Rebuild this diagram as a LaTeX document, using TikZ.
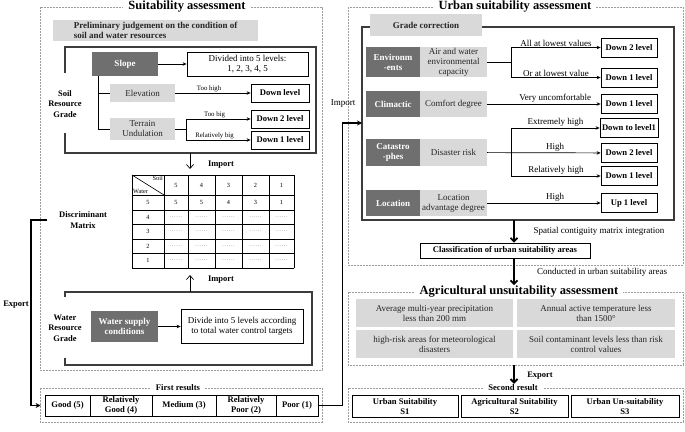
\documentclass[tikz,border=0pt]{standalone}
\usepackage{fontspec}
\setmainfont{Liberation Serif}
\usetikzlibrary{positioning,calc,arrows.meta}
\definecolor{gdark}{HTML}{6F6F6F}
\definecolor{glight}{HTML}{D9D9D9}
\definecolor{gdash}{HTML}{9C9C9C}
\definecolor{gframe}{HTML}{3C3C3C}
\newcommand{\fsmain}{\fontsize{9}{10}\selectfont}
\newcommand{\fslab}{\fontsize{9}{10}\selectfont}
\newcommand{\fsres}{\fontsize{8.6}{9.6}\selectfont}
\newcommand{\fsside}{\fontsize{8.5}{10.5}\selectfont}
\newcommand{\fstiny}{\fontsize{6.8}{8}\selectfont}
\newcommand{\fscell}{\fontsize{6.3}{7}\selectfont}
\newcommand{\fstitle}{\fontsize{12.5}{14}\selectfont}

\begin{document}
\begin{tikzpicture}[x=1pt, y=-1pt, >=Stealth, font=\fsmain,
  grp/.style={draw=gdash, line width=0.6pt, dash pattern=on 2pt off 1pt},
  frm/.style={draw=gframe, line width=1.1pt},
  ttl/.style={fill=white, inner xsep=5pt, inner ysep=1pt, font=\fstitle\bfseries},
  sub/.style={fill=white, inner xsep=5pt, inner ysep=1pt, font=\fsres\bfseries},
  dk/.style={fill=gdark, text=white, font=\fsmain\bfseries, align=center, inner sep=1pt},
  lt/.style={fill=glight, text=black!85, align=center, inner sep=1pt},
  res/.style={draw=black, line width=0.8pt, fill=white, align=center, inner sep=1pt, font=\fsres\bfseries},
  side/.style={font=\fsside\bfseries, align=center, inner sep=1pt},
  lbl/.style={font=\fstiny, inner sep=1pt},
  rlbl/.style={font=\fslab, inner sep=1pt},
  cell/.style={font=\fscell, inner sep=0pt},
  dots/.style={font=\fscell, text=black!45, inner sep=0pt},
  arr/.style={-{Stealth[length=4pt,width=3.5pt]}, line width=0.7pt},
  ln/.style={line width=0.8pt},
  imp/.style={-{Straight Barb[length=4pt,width=7pt]}, line width=0.7pt},
  bar/.style={-{Straight Barb[length=3.5pt,width=7pt]}, line width=1.8pt},
  exp/.style={-{Stealth[length=5pt,width=5pt]}, line width=1.4pt}]
  \useasboundingbox (0,0) rectangle (685,431);
  % --- dashed groups
  \draw[grp] (40,7) rectangle (322,370);
  \draw[grp] (40,388) rectangle (322,422);
  \draw[grp] (348,7) rectangle (683,265);
  \draw[grp] (348,292) rectangle (683,365);
  \draw[grp] (348,388) rectangle (683,422);
  \node[ttl] (suit) at (187,7)   {Suitability assessment};
  \node[ttl] (urb)  at (515,7)   {Urban suitability assessment};
  \node[ttl] (agt)  at (519,292) {Agricultural unsuitability assessment};
  \node[sub] (fres) at (178,388) {First results};
  \node[sub] (sres) at (513,388) {Second result};

  % --- soil resource grade
  \draw[frm] (65,73) -- (65,47) -- (316,47) -- (316,153) -- (65,153) -- (65,133);
  \node[lt, font=\fsmain\bfseries, align=left, anchor=west, minimum width=205, minimum height=21,
        inner xsep=6pt] (pre) at (53,30.5)
        {Preliminary judgement on the condition of\\soil and water resources};
  \node[side] (sgr) at (65,104) {Soil\\Resource\\Grade};
  \node[dk, minimum width=66, minimum height=24] (slope) at (125,64) {Slope};
  \node[draw, line width=0.8pt, align=center, minimum width=121, minimum height=24, inner sep=1pt]
        (div) at (247.5,64) {Divided into 5 levels:\\1, 2, 3, 4, 5};
  \node[lt, minimum width=65, minimum height=18] (elev) at (142.5,93) {Elevation};
  \node[lt, minimum width=65, minimum height=22] (terr) at (142.5,129) {Terrain\\Undulation};
  \node[res, minimum width=58, minimum height=18] (dl)  at (280,93)  {Down level};
  \node[res, minimum width=58, minimum height=18] (dl2) at (280,119) {Down 2 level};
  \node[res, minimum width=58, minimum height=18] (dl1) at (280,140) {Down 1 level};
  \draw[arr] (slope) -- (div);
  \draw[ln] ([xshift=7pt]slope.south west) |- (elev.west);
  \draw[ln] ([xshift=7pt]slope.south west) |- (terr.west);
  \draw[arr] (elev) -- node[lbl, above, pos=0.45] {Too high} (dl);
  \draw[arr] (terr.east) -- ++(11,0) |- node[lbl, above, pos=0.72] {Too big} (dl2);
  \draw[arr] ([xshift=11pt]terr.east) |- node[lbl, above, pos=0.72] {Relatively big} (dl1);

  % --- discriminant matrix
  \coordinate (sbot) at (190,153);
  \coordinate (tin)  at (190,169);
  \draw[imp] (sbot) -- (tin);
  \node[side] (imp1) at (221,165) {Import};
  \node[side] (dm) at (83,220) {Discriminant\\Matrix};
  \foreach \x in {132,164,188,215,242,269,294}
    \draw[line width=0.7pt] (\x,175) -- (\x,268);
  \foreach \y in {175,195,210,224,239,253,268}
    \draw[line width=0.7pt] (132,\y) -- (294,\y);
  \draw[line width=0.6pt] (132,175) -- (164,195);
  \node[cell, anchor=north east, inner sep=1pt] (soil) at (164,175) {Soil};
  \node[cell, anchor=south west, inner sep=1pt] (water) at (132,195) {Water};
  \foreach \cx/\v [count=\i] in {176/5,201.5/4,228.5/3,255.5/2,281.5/1}
    \node[cell] (h\i) at (\cx,185) {\v};
  \foreach \cy/\v [count=\i] in {202.5/5,217/4,231.5/3,246/2,260.5/1}
    \node[cell] (r\i) at (148,\cy) {\v};
  \foreach \cx/\v [count=\i] in {176/5,201.5/5,228.5/4,255.5/3,281.5/1}
    \node[cell] (v\i) at (\cx,202.5) {\v};
  \foreach \cx [count=\i] in {176,201.5,228.5,255.5,281.5}
    \foreach \cy [count=\j] in {217,231.5,246,260.5}
      \node[dots] (d\i\j) at (\cx,\cy) {……};

  % --- water resource grade
  \draw[frm] (65,297) -- (65,292) -- (312,292) -- (312,365) -- (65,365) -- (65,358);
  \coordinate (wtop) at (190,292);
  \coordinate (wtip) at (190,275);
  \draw[imp] (wtop) -- (wtip);
  \node[side] (imp2) at (221,280) {Import};
  \node[side] (wgr) at (65,328) {Water\\Resource\\Grade};
  \node[dk, minimum width=67, minimum height=31] (wsup) at (124.5,326.5) {Water supply\\conditions};
  \node[draw, line width=0.8pt, align=center, minimum width=122, minimum height=34, inner sep=1pt]
        (wdiv) at (242,326.5) {Divide into 5 levels according\\to total water control targets};
  \draw[arr] (wsup) -- (wdiv);

  % --- first results
  \node[res, minimum width=45, minimum height=21] (good) at (67.5,405.5)  {Good (5)};
  \node[res, minimum width=62, minimum height=21] (rgood) at (121,405.5) {Relatively\\Good (4)};
  \node[res, minimum width=64, minimum height=21] (med) at (184,405.5)   {Medium (3)};
  \node[res, minimum width=60, minimum height=21] (rpoor) at (246,405.5) {Relatively\\Poor (2)};
  \node[res, minimum width=42, minimum height=21] (poor) at (297,405.5)  {Poor (1)};
  \coordinate (dmex) at (47,220);
  \draw[exp, shorten >=4pt] (dmex) -- ++(-16,0) |- (good.west);
  \node[side] (ex1) at (16,305) {Export};

  % --- urban suitability
  \draw[frm] (362,27) rectangle (674,220);
  \node[lt, font=\fsmain\bfseries, minimum width=112, minimum height=22] (gc) at (426,25) {Grade correction};
  \coordinate (uin) at (362,123);
  \draw[exp] (poor.east) -- ++(24,0) |- (uin);
  \node[rlbl] (imp3) at (343,104) {Import};
  \node[dk, minimum width=54, minimum height=30] (env)  at (393,62)    {Environm\\-ents};
  \node[lt, minimum width=67, minimum height=30] (envc) at (453.5,62)  {Air and water\\environmental\\capacity};
  \node[dk, minimum width=54, minimum height=26] (clim) at (393,104)   {Climactic};
  \node[lt, minimum width=67, minimum height=26] (comf) at (453.5,104) {Comfort degree};
  \node[dk, minimum width=54, minimum height=27] (cat)  at (393,152.5) {Catastro\\-phes};
  \node[lt, minimum width=67, minimum height=27] (dis)  at (453.5,152.5) {Disaster risk};
  \node[dk, minimum width=54, minimum height=26] (loc)  at (393,203)   {Location};
  \node[lt, minimum width=67, minimum height=26] (ladv) at (453.5,203) {Location\\advantage degree};
  \node[res, minimum width=56, minimum height=19] (edn2) at (629,47.5)  {Down 2 level};
  \node[res, minimum width=56, minimum height=19] (edn1) at (629,77.5)  {Down 1 level};
  \node[res, minimum width=56, minimum height=19] (cdn1) at (629,104)   {Down 1 level};
  \node[res, minimum width=58, minimum height=19] (klv1) at (629,128)   {Down to level1};
  \node[res, minimum width=56, minimum height=19] (kdn2) at (629,153)   {Down 2 level};
  \node[res, minimum width=56, minimum height=19] (kdn1) at (629,176)   {Down 1 level};
  \node[res, minimum width=56, minimum height=19] (up1)  at (629,203)   {Up 1 level};
  \draw[arr] (envc.east) -- ++(24,0) |- node[rlbl, above, pos=0.75] {All at lowest values} (edn2);
  \draw[arr] ([xshift=24pt]envc.east) |- node[rlbl, above, pos=0.75] {Or at lowest value} (edn1);
  \draw[arr] (comf) -- node[rlbl, above, pos=0.6] {Very uncomfortable} (cdn1);
  \draw[arr] (dis) -- node[rlbl, above, pos=0.6] {High} (kdn2);
  \draw[arr] ([xshift=24pt]dis.east) |- node[rlbl, above, pos=0.75] {Extremely high} (klv1);
  \draw[arr] ([xshift=24pt]dis.east) |- node[rlbl, above, pos=0.75] {Relatively high} (kdn1);
  \draw[arr] (ladv) -- node[rlbl, above, pos=0.6] {High} (up1);
  \node[res, minimum width=170, minimum height=15] (cls) at (505,250.5) {Classification of urban suitability areas};
  \coordinate (ubot) at (514,220);
  \draw[bar] (ubot) -- (ubot |- cls.north);
  \node[rlbl] (spa) at (599,231) {Spatial contiguity matrix integration};
  \draw[bar] (cls.south -| ubot) -- (ubot |- agt.north);
  \node[rlbl] (con) at (602,272) {Conducted in urban suitability areas};

  % --- agricultural unsuitability
  \node[lt, font=\fslab, minimum width=157, minimum height=28] (prec) at (434.5,313) {Average multi-year precipitation\\less than 200 mm};
  \node[lt, font=\fslab, minimum width=158, minimum height=28] (temp) at (596,313)   {Annual active temperature less\\than 1500°};
  \node[lt, font=\fslab, minimum width=157, minimum height=28] (met)  at (434.5,344) {high-risk areas for meteorological\\disasters};
  \node[lt, font=\fslab, minimum width=158, minimum height=28] (cont) at (596,344)   {Soil contaminant levels less than risk\\control values};
  \coordinate (abot) at (514,365);
  \draw[bar] (abot) -- (abot |- sres.north);
  \node[side] (ex2) at (540,376) {Export};

  % --- second result
  \node[res, minimum width=106, minimum height=22] (s1) at (405,406.5)   {Urban Suitability\\S1};
  \node[res, minimum width=107, minimum height=22] (s2) at (514.5,406.5) {Agricultural Suitability\\S2};
  \node[res, minimum width=108, minimum height=22] (s3) at (625,406.5)   {Urban Un-suitability\\S3};
\end{tikzpicture}
\end{document}
